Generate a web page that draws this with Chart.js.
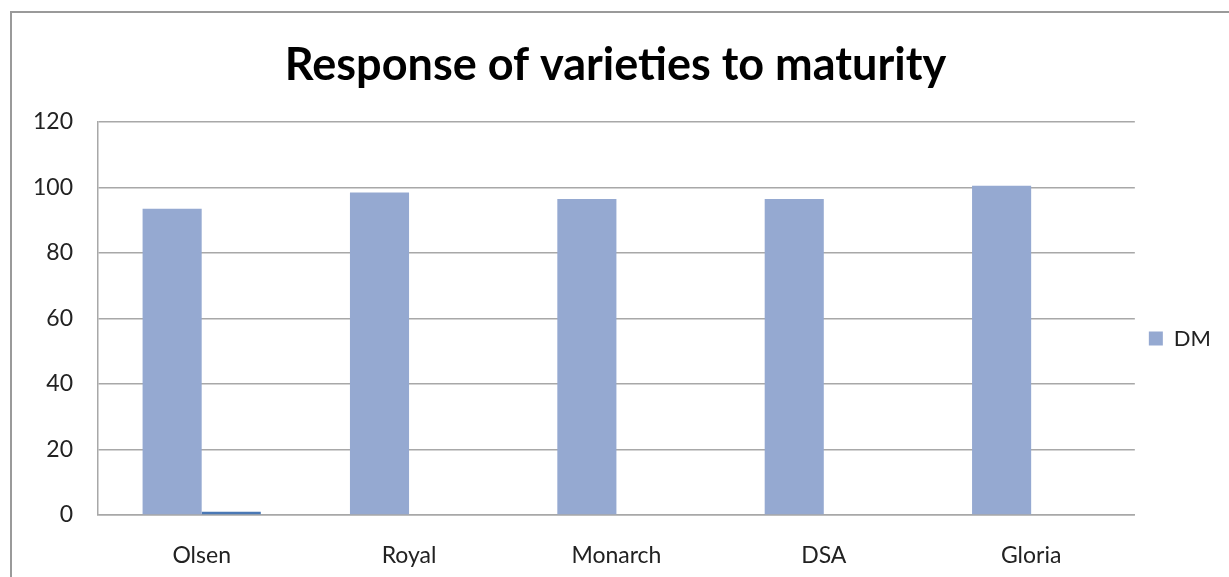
<!DOCTYPE html>
<html>
<head>
<meta charset="utf-8">
<script src="https://cdn.jsdelivr.net/npm/chart.js@4.4.0/dist/chart.umd.min.js"></script>
<style>
  body { margin: 0; background: #fff; }
  #frame { position: absolute; left: 10px; top: 11px; width: 1300px; height: 600px;
           border-left: 2px solid #9a9a9a; border-top: 2px solid #9a9a9a; }
  #wrap { position: absolute; left: 0; top: 0; }
</style>
</head>
<body>
<div id="frame"></div>
<div id="wrap"><canvas id="grafico" width="1229" height="577"></canvas></div>
<script>
// Dados do gráfico
const categorias = ["Olsen", "Royal", "Monarch", "DSA", "Gloria"];
const valoresDM = [93.5, 98.5, 96.5, 96.5, 100.5];
const valoresSerie2 = [1, null, null, null, null]; // segunda série sem nome, só aparece em Olsen
const eixoY = { min: 0, max: 120, passo: 20 };

const corGrade = "#a8a8a8";
const fonteTicks = { family: "Lato", size: 23 };

let ctx = document.getElementById("grafico").getContext("2d");
new Chart(ctx, {
    type: "bar",
    data: {
        labels: categorias,
        datasets: [{
            label: "DM",
            data: valoresDM,
            backgroundColor: "#95a9d1",
            categoryPercentage: 0.57,
            barPercentage: 1.0
        }, {
            label: "",
            data: valoresSerie2,
            backgroundColor: "#4a78b5",
            categoryPercentage: 0.57,
            barPercentage: 1.0
        }]
    },
    options: {
        responsive: false,
        animation: false,
        layout: { padding: { left: 10, right: 8, top: 0, bottom: 0 } },
        plugins: {
            title: {
                display: true,
                text: "Response of varieties to maturity",
                color: "#000",
                font: { family: "Lato", size: 45, weight: "bold" },
                padding: { top: 38, bottom: 30 }
            },
            legend: {
                position: "right",
                // título vazio só para empurrar a legenda um pouco para baixo
                title: { display: true, text: " ", font: { family: "Lato", size: 20 }, padding: { top: 38, bottom: 38 } },
                labels: {
                    color: "#222",
                    font: { family: "Lato", size: 22 },
                    boxWidth: 14,
                    boxHeight: 14,
                    padding: 14,
                    filter: item => item.datasetIndex === 0
                },
                onClick: null
            },
            tooltip: { enabled: false }
        },
        scales: {
            x: {
                grid: { display: false },
                border: { display: true, color: corGrade, width: 1.5 },
                ticks: { color: "#222", font: fonteTicks, padding: 19 },
                afterFit: function (scale) { scale.height = 62; }
            },
            y: {
                min: eixoY.min,
                max: eixoY.max,
                ticks: { stepSize: eixoY.passo, color: "#222", font: fonteTicks, padding: 25 },
                grid: { color: corGrade, lineWidth: 1.5, drawTicks: false },
                border: { display: true, color: corGrade, width: 1.5 },
                afterFit: function (scale) { scale.width = 88; }
            }
        }
    }
});
</script>
</body>
</html>
